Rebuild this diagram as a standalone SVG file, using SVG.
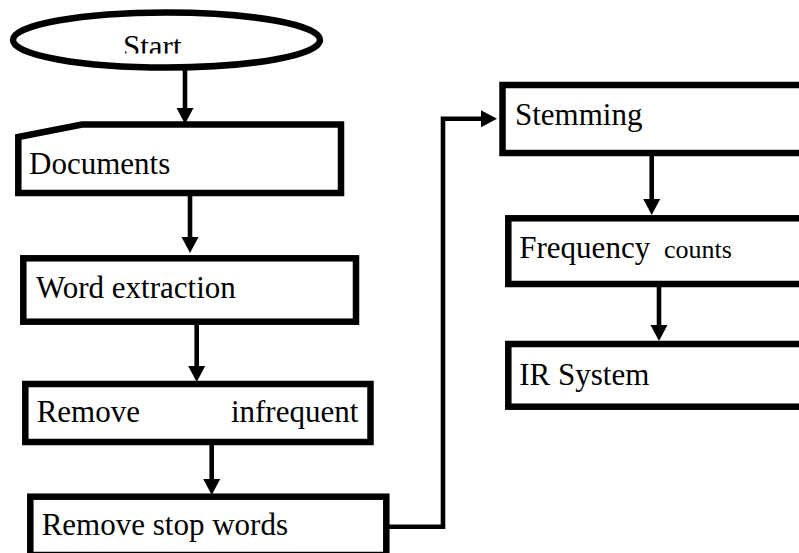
<svg xmlns="http://www.w3.org/2000/svg" width="799" height="553" viewBox="0 0 799 553">
<style>
.box{fill:#fff;stroke:#000;stroke-width:6.5;stroke-linejoin:miter}
.lbl{font-family:"Liberation Serif","Times New Roman",serif;font-size:31px;fill:#000}
.con{fill:none;stroke:#000;stroke-width:4.6;stroke-linejoin:miter}
</style>
<defs>
<marker id="ah" markerUnits="userSpaceOnUse" markerWidth="16" markerHeight="17" refX="0" refY="8.5" orient="auto" overflow="visible">
<path d="M0,0 L16,8.5 L0,17 Z" fill="#000"/>
</marker>
<clipPath id="startclip"><rect x="0" y="0" width="799" height="53.5"/></clipPath>
</defs>
<rect width="799" height="553" fill="#fff"/>
<g id="connectors">
<line class="con" x1="185" y1="68" x2="185" y2="108" marker-end="url(#ah)"/>
<line class="con" x1="190" y1="196" x2="190" y2="237" marker-end="url(#ah)"/>
<line class="con" x1="196.7" y1="325" x2="196.7" y2="366" marker-end="url(#ah)"/>
<line class="con" x1="211.7" y1="445" x2="211.7" y2="479" marker-end="url(#ah)"/>
<path class="con" d="M388,526.7 H443 V118.8 H481" marker-end="url(#ah)"/>
<line class="con" x1="651.7" y1="155" x2="651.7" y2="199" marker-end="url(#ah)"/>
<line class="con" x1="659" y1="287" x2="659" y2="325" marker-end="url(#ah)"/>
</g>
<g id="start">
<ellipse cx="166.5" cy="40" rx="153.5" ry="27.5" fill="#fff" stroke="#000" stroke-width="6.5"/>
<text class="lbl" x="123" y="57" clip-path="url(#startclip)">Start</text>
</g>
<g id="documents">
<path class="box" d="M18.3,137 L82,124.5 H341 V193 H18.3 Z"/>
<text class="lbl" x="29" y="174">Documents</text>
</g>
<g id="word-extraction">
<rect class="box" x="23.3" y="258.3" width="332.7" height="63.4"/>
<text class="lbl" x="36" y="298.3">Word extraction</text>
</g>
<g id="remove-infrequent">
<rect class="box" x="25.3" y="384" width="345.2" height="58"/>
<text class="lbl" y="421.7"><tspan x="36.7">Remove</tspan><tspan x="358.3" text-anchor="end">infrequent</tspan></text>
</g>
<g id="remove-stop-words">
<rect class="box" x="30.3" y="496.7" width="356" height="58.3"/>
<text class="lbl" x="41.7" y="535">Remove stop words</text>
</g>
<g id="stemming">
<rect class="box" x="502.5" y="85" width="330" height="68"/>
<text class="lbl" x="515" y="125">Stemming</text>
</g>
<g id="frequency-counts">
<rect class="box" x="508.3" y="218.3" width="330" height="65.7"/>
<text class="lbl" x="519.3" y="258.3">Frequency<tspan x="664" font-size="26">counts</tspan></text>
</g>
<g id="ir-system">
<rect class="box" x="508.3" y="344" width="330" height="62.7"/>
<text class="lbl" x="519.3" y="385">IR System</text>
</g>
</svg>
